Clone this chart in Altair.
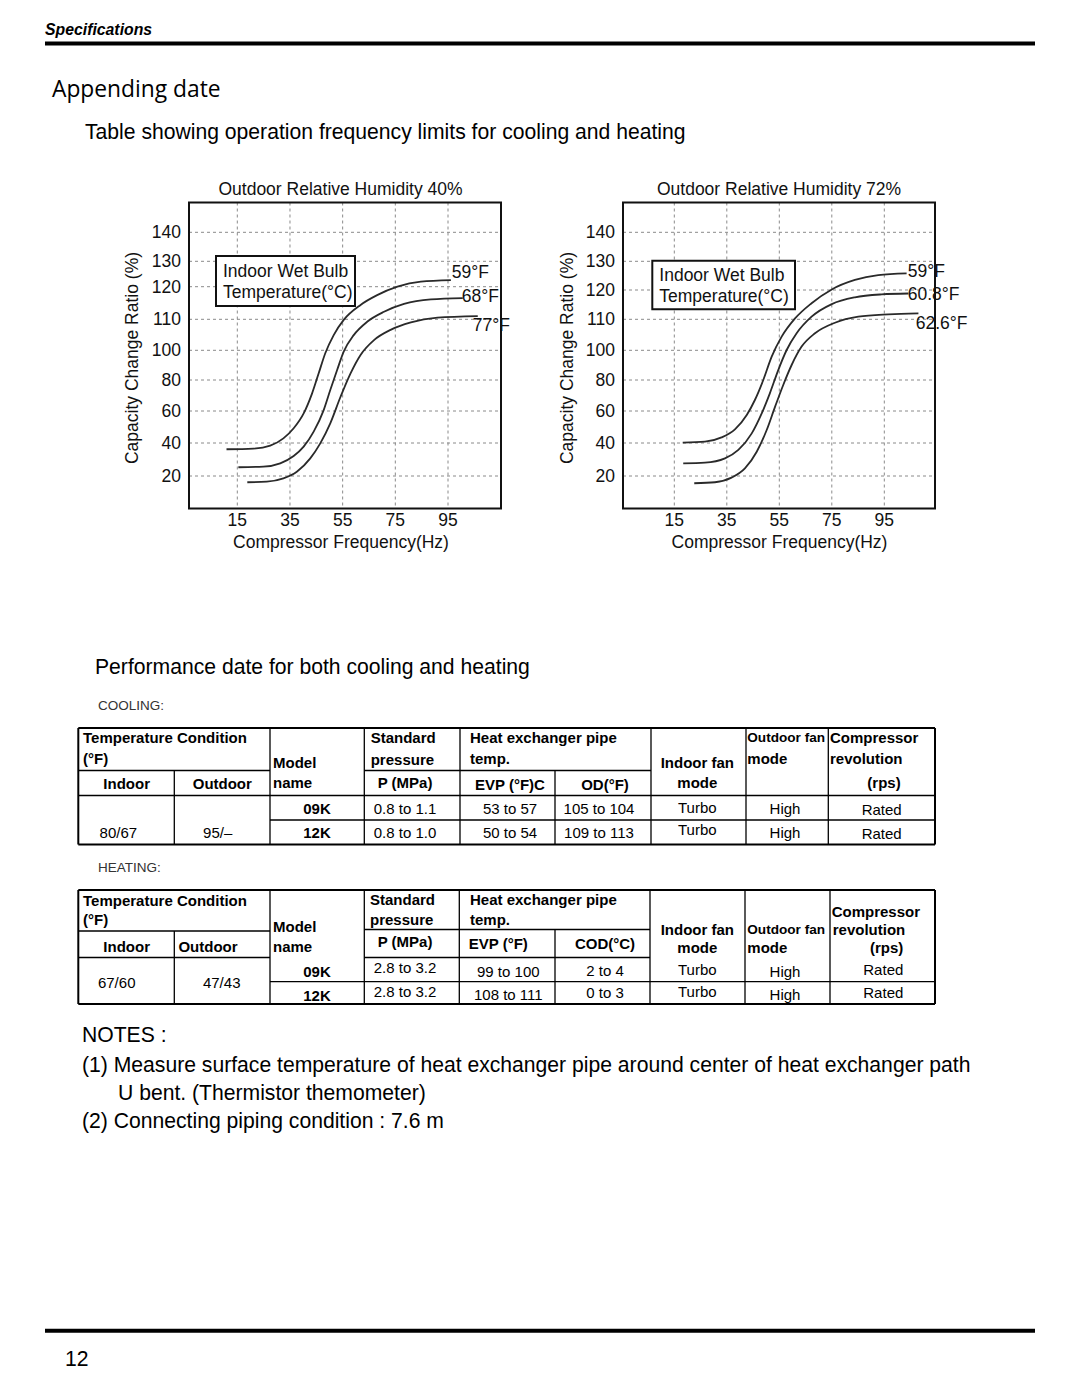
import altair as alt
import pandas as pd

SANS = "Liberation Sans"

# ---------------- chart data ----------------
hz_ticks = [15, 35, 55, 75, 95]
ratio_ticks = [20, 40, 60, 80, 100, 110, 120, 130, 140]

# Outdoor RH 40 %
rh40_59_hz = [10.9, 21.1, 27.5, 32.5, 36.4, 40.2, 43.4, 45.9, 48.4, 51.6, 55.4, 61.8, 68.1, 75.8, 84.7, 96.1]
rh40_59_r = [36.2, 36.6, 38.4, 42.9, 49.2, 58.5, 71.4, 84.5, 98.0, 104.9, 109.8, 114.4, 117.4, 120.0, 122.0, 122.6]
rh40_68_hz = [15.4, 24.9, 31.3, 36.4, 40.2, 44.0, 47.8, 50.3, 52.9, 55.4, 59.2, 64.3, 70.7, 78.3, 88.5, 100.6]
rh40_68_r = [25.3, 25.7, 27.7, 32.1, 37.8, 47.1, 60.6, 73.5, 86.7, 99.1, 104.9, 109.2, 112.3, 114.7, 116.1, 116.5]
rh40_77_hz = [18.8, 26.2, 32.5, 37.6, 42.7, 46.5, 50.3, 54.2, 58.0, 61.8, 66.9, 73.2, 80.9, 91.0, 106.3]
rh40_77_r = [16.2, 16.6, 18.6, 22.6, 30.7, 39.8, 52.3, 69.2, 84.5, 96.9, 103.3, 106.6, 109.0, 110.5, 111.0]

# Outdoor RH 72 %
rh72_59_hz = [18.2, 26.7, 33.0, 38.1, 42.6, 45.7, 48.9, 52.1, 55.9, 61.0, 67.3, 75.0, 83.8, 92.7, 103.5]
rh72_59_r = [40.2, 40.8, 43.5, 48.5, 57.5, 67.1, 80.0, 95.7, 104.4, 110.3, 115.5, 120.2, 123.5, 125.2, 125.8]
rh72_608_hz = [18.4, 26.7, 34.3, 39.4, 44.5, 48.3, 51.4, 54.6, 57.8, 61.6, 67.3, 75.0, 83.8, 94.0, 104.2]
rh72_608_r = [27.7, 28.1, 30.7, 35.8, 46.0, 58.5, 71.4, 86.7, 100.1, 105.5, 110.9, 115.2, 117.5, 118.5, 118.8]
rh72_626_hz = [22.6, 30.5, 36.8, 41.9, 46.4, 50.2, 53.4, 56.5, 59.7, 63.5, 68.6, 76.2, 85.1, 96.5, 108.0]
rh72_626_r = [15.6, 16.2, 19.0, 24.6, 34.7, 48.1, 62.8, 76.8, 90.1, 101.2, 105.5, 108.9, 110.9, 111.7, 112.0]

rh40_labels = ["59°F", "68°F", "77°F"]
rh72_labels = ["59°F", "60.8°F", "62.6°F"]

# ---------------- table data ----------------
models = ["09K", "12K"]
cool_indoor, cool_outdoor = "80/67", "95/–"
cool_pressure = ["0.8 to 1.1", "0.8 to 1.0"]
cool_evp = ["53 to 57", "50 to 54"]
cool_od = ["105 to 104", "109 to 113"]
cool_in_fan = ["Turbo", "Turbo"]
cool_out_fan = ["High", "High"]
cool_comp = ["Rated", "Rated"]

heat_indoor, heat_outdoor = "67/60", "47/43"
heat_pressure = ["2.8 to 3.2", "2.8 to 3.2"]
heat_evp = ["99 to 100", "108 to 111"]
heat_cod = ["2 to 4", "0 to 3"]
heat_in_fan = ["Turbo", "Turbo"]
heat_out_fan = ["High", "High"]
heat_comp = ["Rated", "Rated"]

ONE = pd.DataFrame({"a": [0]})
layers = []


def text_layer(items, size, weight="normal", align="left", font=SANS, style="normal",
               color="#000", angle=0):
    df = pd.DataFrame(items, columns=["t", "x", "y"])
    kw = dict(align=align, baseline="middle", fontSize=size, fontWeight=weight,
              font=font, fontStyle=style, color=color)
    if angle:
        kw["angle"] = angle
    return alt.Chart(df).mark_text(**kw).encode(
        x=alt.X("x:Q", scale=None, axis=None),
        y=alt.Y("y:Q", scale=None, axis=None),
        text="t:N",
    )


def rules_layer(segs, color="#000", dash=None):
    df = pd.DataFrame(segs, columns=["x", "y", "x2", "y2", "w"])
    kw = dict(color=color)
    if dash:
        kw["strokeDash"] = dash
    return alt.Chart(df).mark_rule(**kw).encode(
        x=alt.X("x:Q", scale=None, axis=None),
        y=alt.Y("y:Q", scale=None, axis=None),
        x2="x2:Q", y2="y2:Q",
        strokeWidth=alt.StrokeWidth("w:Q", scale=None),
    )


def build_chart(curves, labels, xr, yr, frame, box, box_text_x, box_text_y,
                label_pos, title, title_x, ytitle_x, ticklab_x):
    fx0, fx1, fy0, fy1 = frame
    xs = alt.Scale(domain=[15, 95], range=xr, zero=False, nice=False)
    ys = alt.Scale(domain=ratio_ticks, range=yr, zero=False, nice=False)
    out = []
    # dashed grid
    out.append(alt.Chart(pd.DataFrame({"hz": hz_ticks})).mark_rule(
        color="#8a8a8a", strokeDash=[3, 3], strokeWidth=1).encode(
        x=alt.X("hz:Q", scale=xs, axis=None), y=alt.value(fy0), y2=alt.value(fy1)))
    out.append(alt.Chart(pd.DataFrame({"ratio": ratio_ticks})).mark_rule(
        color="#8a8a8a", strokeDash=[3, 3], strokeWidth=1).encode(
        y=alt.Y("ratio:Q", scale=ys, axis=None), x=alt.value(fx0), x2=alt.value(fx1)))
    # frame
    out.append(alt.Chart(ONE).mark_rect(fillOpacity=0, stroke="#111", strokeWidth=2).encode(
        x=alt.value(fx0), x2=alt.value(fx1), y=alt.value(fy0), y2=alt.value(fy1)))
    # tick labels
    out.append(alt.Chart(pd.DataFrame({"ratio": ratio_ticks})).mark_text(
        align="right", baseline="middle", fontSize=17.5, font=SANS, dy=1, color="#111").encode(
        y=alt.Y("ratio:Q", scale=ys, axis=None), x=alt.value(ticklab_x), text="ratio:Q"))
    out.append(alt.Chart(pd.DataFrame({"hz": hz_ticks})).mark_text(
        align="center", baseline="middle", fontSize=17.5, font=SANS, color="#111").encode(
        x=alt.X("hz:Q", scale=xs, axis=None), y=alt.value(512.5), text="hz:Q"))
    # legend box
    bx0, by0, bx1, by1 = box
    out.append(alt.Chart(ONE).mark_rect(fill="white", stroke="#111", strokeWidth=2).encode(
        x=alt.value(bx0), x2=alt.value(bx1), y=alt.value(by0), y2=alt.value(by1)))
    out.append(text_layer([("Indoor Wet Bulb", box_text_x, box_text_y[0]),
                           ("Temperature(°C)", box_text_x, box_text_y[1])], 17.5, color="#111"))
    # curves
    rows = []
    for name, (hz, r) in zip(labels, curves):
        for h, v in zip(hz, r):
            rows.append({"curve": name, "hz": h, "ratio": v})
    out.append(alt.Chart(pd.DataFrame(rows)).mark_line(
        interpolate="monotone", color="#2a2a2a", strokeWidth=1.8).encode(
        x=alt.X("hz:Q", scale=xs, axis=None),
        y=alt.Y("ratio:Q", scale=ys, axis=None),
        detail="curve:N"))
    # curve labels
    out.append(text_layer([(lab, p[0], p[1]) for lab, p in zip(labels, label_pos)],
                          17.5, color="#111"))
    # titles
    out.append(text_layer([(title, title_x, 182)], 17.5, align="center", color="#111"))
    out.append(text_layer([("Compressor Frequency(Hz)", title_x + 0.5, 535)], 17.5,
                          align="center", color="#111"))
    out.append(text_layer([("Capacity Change Ratio (%)", ytitle_x, 350)], 17.5,
                          align="center", color="#111", angle=270))
    return out


layers += build_chart(
    [(rh40_59_hz, rh40_59_r), (rh40_68_hz, rh40_68_r), (rh40_77_hz, rh40_77_r)],
    rh40_labels,
    xr=[229.3, 440],
    yr=[468, 435, 403, 372, 342.3, 311.3, 278.7, 253.3, 224.3],
    frame=(181, 493, 194.5, 500.5),
    box=(208, 248, 347, 298), box_text_x=215, box_text_y=(263.7, 285.3),
    label_pos=[(443.7, 265.3), (453.7, 288.7), (464.7, 317.7)],
    title="Outdoor Relative Humidity 40%", title_x=332.5, ytitle_x=125, ticklab_x=173)

layers += build_chart(
    [(rh72_59_hz, rh72_59_r), (rh72_608_hz, rh72_608_r), (rh72_626_hz, rh72_626_r)],
    rh72_labels,
    xr=[666.3, 876.3],
    yr=[468, 435, 403, 372, 342.3, 311.3, 282, 253.3, 224.3],
    frame=(615, 927, 194.5, 500.5),
    box=(644.3, 252.7, 787, 301.3), box_text_x=651.3, box_text_y=(267.7, 288.7),
    label_pos=[(899.7, 263.7), (899.7, 287), (907.7, 316)],
    title="Outdoor Relative Humidity 72%", title_x=771, ytitle_x=560, ticklab_x=607)

# ---------------- page header / footer ----------------
layers.append(rules_layer([(37, 35.5, 1027, 35.5, 4), (37, 1322.7, 1027, 1322.7, 4)]))
layers.append(text_layer([("Specifications", 37, 22)], 15.8, weight="bold", style="italic"))
layers.append(text_layer([("Appending date", 44, 82)], 22.8, font="Open Sans"))
layers.append(text_layer([
    ("Table showing operation frequency limits for cooling and heating", 77, 125),
    ("Performance date for both cooling and heating", 87, 660),
    ("NOTES :", 74, 1028),
    ("(1) Measure surface temperature of heat exchanger pipe around center of heat exchanger path", 74, 1058),
    ("U bent. (Thermistor themometer)", 110, 1086),
    ("(2) Connecting piping condition : 7.6 m", 74, 1114),
    ("12", 57, 1352),
], 21.15))
layers.append(text_layer([("COOLING:", 90, 698), ("HEATING:", 90, 860)], 13.5, color="#333"))

# ---------------- cooling table ----------------
T, MID, HB, RD, B = 720, 762.5, 787.5, 812, 836.5
cool_lines = [
    (70.3, T, 927, T, 2), (70.3, MID, 262, MID, 1.3), (356.3, MID, 643, MID, 1.3),
    (70.3, HB, 927, HB, 1.5), (262, RD, 927, RD, 1.3), (70.3, B, 927, B, 2),
    (70.3, T, 70.3, B, 2), (166.3, MID, 166.3, B, 1.3), (262, T, 262, B, 1.3),
    (356.3, T, 356.3, B, 1.3), (452, T, 452, B, 1.3), (547, MID, 547, B, 1.3),
    (643, T, 643, B, 1.3), (738, T, 738, B, 1.3), (820.3, T, 820.3, B, 1.3),
    (927, T, 927, B, 2),
]
layers.append(rules_layer(cool_lines))
r1, r2 = 801.3, 825.3
layers.append(text_layer([
    ("Temperature Condition", 75, 730), ("(°F)", 75, 751),
    ("Model", 265, 754.7), ("name", 265, 775.3),
    ("Standard", 362.7, 730.3), ("pressure", 362.7, 752),
    ("Heat exchanger pipe", 462, 730.3), ("temp.", 462, 751.3),
    ("mode", 739.3, 751.3),
    ("Compressor", 822, 730.3), ("revolution", 822, 751.3),
], 15, weight="bold"))
layers.append(text_layer([("Outdoor fan", 739.3, 730.3)], 13.6, weight="bold"))
layers.append(text_layer([
    ("Indoor", 118.7, 776), ("Outdoor", 214.3, 776), ("P (MPa)", 397, 774.7),
    ("EVP (°F)C", 502, 777), ("OD(°F)", 597, 777), ("Indoor fan", 689.3, 755.3),
    ("mode", 689.3, 775.3), ("(rps)", 876, 775.3),
    (models[0], 309, r1), (models[1], 309, r2),
], 15, weight="bold", align="center"))
layers.append(text_layer([
    (cool_indoor, 110.3, 824.7), (cool_outdoor, 209.7, 825.3),
    (cool_pressure[0], 397, r1), (cool_pressure[1], 397, r2),
    (cool_evp[0], 502, r1), (cool_evp[1], 502, r2),
    (cool_od[0], 591, r1), (cool_od[1], 591, r2),
    (cool_in_fan[0], 689.3, 800.3), (cool_in_fan[1], 689.3, 822),
    (cool_out_fan[0], 777, r1), (cool_out_fan[1], 777, r2),
    (cool_comp[0], 873.7, 802), (cool_comp[1], 873.7, 826),
], 15, align="center"))

# ---------------- heating table ----------------
T, MIDa, MIDb, HB, RD, B = 882, 923, 921.5, 949.5, 973.7, 996
heat_lines = [
    (70.3, T, 927, T, 2), (70.3, MIDa, 262, MIDa, 1.3), (356.3, MIDb, 642, MIDb, 1.3),
    (70.3, HB, 262, HB, 1.5), (356.3, HB, 642, HB, 1.5),
    (262, RD, 927, RD, 1.3), (70.3, B, 927, B, 2),
    (70.3, T, 70.3, B, 2), (166.3, MIDa, 166.3, B, 1.3), (262, T, 262, B, 1.3),
    (356.3, T, 356.3, B, 1.3), (451.3, T, 451.3, B, 1.3), (547, MIDb, 547, B, 1.3),
    (642, T, 642, B, 1.3), (737, T, 737, B, 1.3), (822, T, 822, B, 1.3),
    (927, T, 927, B, 2),
]
layers.append(rules_layer(heat_lines))
layers.append(text_layer([
    ("Temperature Condition", 75, 892.7), ("(°F)", 75, 912),
    ("Model", 265, 918.7), ("name", 265, 939.3),
    ("Standard", 362, 892), ("pressure", 362, 912),
    ("Heat exchanger pipe", 462, 892), ("temp.", 462, 912),
    ("Compressor", 823.7, 903.7), ("revolution", 824.7, 922),
    ("mode", 739.3, 940.3),
], 15, weight="bold"))
layers.append(text_layer([("Outdoor fan", 739.3, 922)], 13.6, weight="bold"))
layers.append(text_layer([
    ("Indoor", 118.7, 938.7), ("Outdoor", 200, 938.7), ("P (MPa)", 397, 933.7),
    ("EVP (°F)", 490.3, 936.3), ("COD(°C)", 597, 936.3), ("Indoor fan", 689.3, 922),
    ("mode", 689.3, 940.3), ("(rps)", 878.7, 940.3),
    (models[0], 309, 964.3), (models[1], 309, 987.7),
], 15, weight="bold", align="center"))
layers.append(text_layer([
    (heat_indoor, 108.7, 975.3), (heat_outdoor, 213.7, 975.3),
    (heat_pressure[0], 397, 960.3), (heat_pressure[1], 397, 984.3),
    (heat_evp[0], 500.3, 964.3), (heat_evp[1], 500.3, 987),
    (heat_cod[0], 597, 963), (heat_cod[1], 597, 985.3),
    (heat_in_fan[0], 689.3, 962), (heat_in_fan[1], 689.3, 983.7),
    (heat_out_fan[0], 777, 964.3), (heat_out_fan[1], 777, 987),
    (heat_comp[0], 875.3, 962), (heat_comp[1], 875.3, 985.3),
], 15, align="center"))

chart = alt.layer(*layers).resolve_scale(x="independent", y="independent").properties(
    width=1064, height=1381,
    autosize=alt.AutoSizeParams(type="none"),
    padding=0,
).configure_view(stroke=None)

chart.save("out.html", embed_options={"renderer": "svg", "actions": False})
